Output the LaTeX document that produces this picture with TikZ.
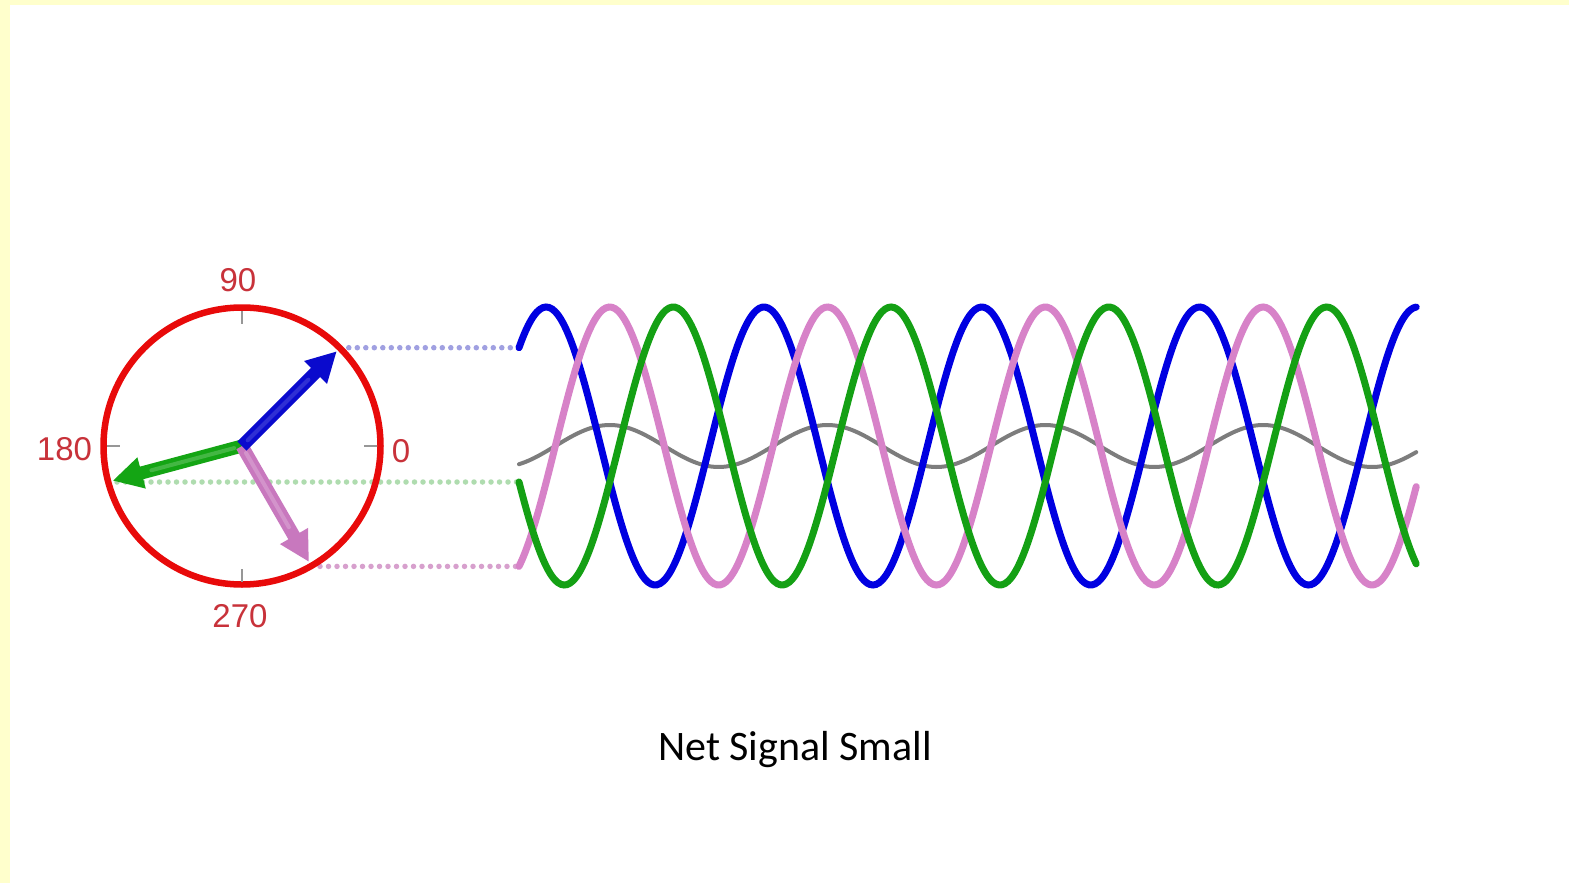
\documentclass[tikz,border=0pt]{standalone}
\usepackage{fontspec}
\setmainfont{Liberation Sans}
\newfontfamily\capfont{Carlito}
\usetikzlibrary{arrows.meta,calc}
\definecolor{bgyellow}{RGB}{255,255,204}
\definecolor{ringred}{RGB}{232,10,10}
\definecolor{lblred}{RGB}{200,50,58}
\definecolor{wblue}{RGB}{0,0,225}
\definecolor{wgreen}{RGB}{20,160,20}
\definecolor{wpink}{RGB}{215,130,200}
\definecolor{wgray}{RGB}{125,125,125}
\definecolor{dblue}{RGB}{160,160,225}
\definecolor{dgreen}{RGB}{175,220,175}
\definecolor{dpink}{RGB}{215,160,205}
\definecolor{ablue}{RGB}{10,10,205}
\definecolor{agreen}{RGB}{20,165,20}
\definecolor{apink}{RGB}{200,120,190}
\tikzset{
  lbl/.style={text=lblred, inner sep=0pt, font=\fontsize{33}{37}\selectfont},
  tickmark/.style={draw=wgray!80, line width=2pt},
  dotline/.style={line width=5.5pt, line cap=round, dash pattern=on 0pt off 8.5pt},
  wave/.style={line width=7pt, line cap=round},
  phasor/.style={line width=13pt, -{Triangle[length=30pt,width=30pt]}},
  shine/.style={line width=4pt, line cap=round},
}
\begin{document}
\begin{tikzpicture}[x=1pt,y=-1pt]
\fill[bgyellow] (0,0) rectangle (1569,883);
\fill[white] (10,5) rectangle (1569,883);
\useasboundingbox (0,0) rectangle (1569,883);
% centre and points
\coordinate (O) at (242,446);
\coordinate (cb) at (340.3,347.7);
\coordinate (cg) at (117,482);
\coordinate (cp) at (311.5,566.4);
\coordinate (wb) at (519,347.7);
\coordinate (wg) at (519,482);
\coordinate (wp) at (519,566.4);
\coordinate (tb) at (336.8,351.2);
\coordinate (tg) at (112.6,480.7);
\coordinate (tp) at (309,562);
% dotted projection lines
\draw[dotline, dblue] (cb) -- (wb);
\draw[dotline, dgreen] (cg) -- (wg);
\draw[dotline, dpink] (cp) -- (wp);
% ring and ticks
\draw[ringred, line width=6.5pt] (O) circle (138.5);
\draw[tickmark] (242,311) -- (242,324);
\draw[tickmark] (242,569) -- (242,582);
\draw[tickmark] (107,446) -- (120,446);
\draw[tickmark] (364,446) -- (377,446);
% labels
\node[lbl] (l90) at (238,280) {90};
\node[lbl] (l180) at (64.5,449.5) {180};
\node[lbl] (l0) at (401,451) {0};
\node[lbl] (l270) at (240,616) {270};
% phasors
\draw[phasor, agreen] (O) -- (tg);
\draw[shine, agreen!80!white] ($(O)!0.06!(tg)$) -- ($(O)!0.7!(tg)$);
\draw[phasor, apink] (O) -- (tp);
\draw[shine, apink!80!white] ($(O)!0.06!(tp)$) -- ($(O)!0.7!(tp)$);
\draw[phasor, ablue] (O) -- (tb);
\draw[shine, ablue!85!white] ($(O)!0.06!(tb)$) -- ($(O)!0.7!(tb)$);
% waves
\draw[wave, wgray, line width=4pt] plot[domain=0:1483, samples=300, smooth]
  ({519+\x*0.605}, {446-21*sin(\x-60)});
\draw[wave, wblue] plot[domain=0:1483, samples=300, smooth]
  ({519+\x*0.605}, {446-139*sin(\x+45)});
\draw[wave, wpink] plot[domain=0:1483, samples=300, smooth]
  ({519+\x*0.605}, {446-139*sin(\x+300)});
\draw[wave, wgreen] plot[domain=0:1483, samples=300, smooth]
  ({519+\x*0.605}, {446-139*sin(\x+195)});
% caption
\node[anchor=base, inner sep=0pt, font=\capfont\fontsize{42}{46}\selectfont] (cap) at (795,760) {Net Signal Small};
\end{tikzpicture}
\end{document}
